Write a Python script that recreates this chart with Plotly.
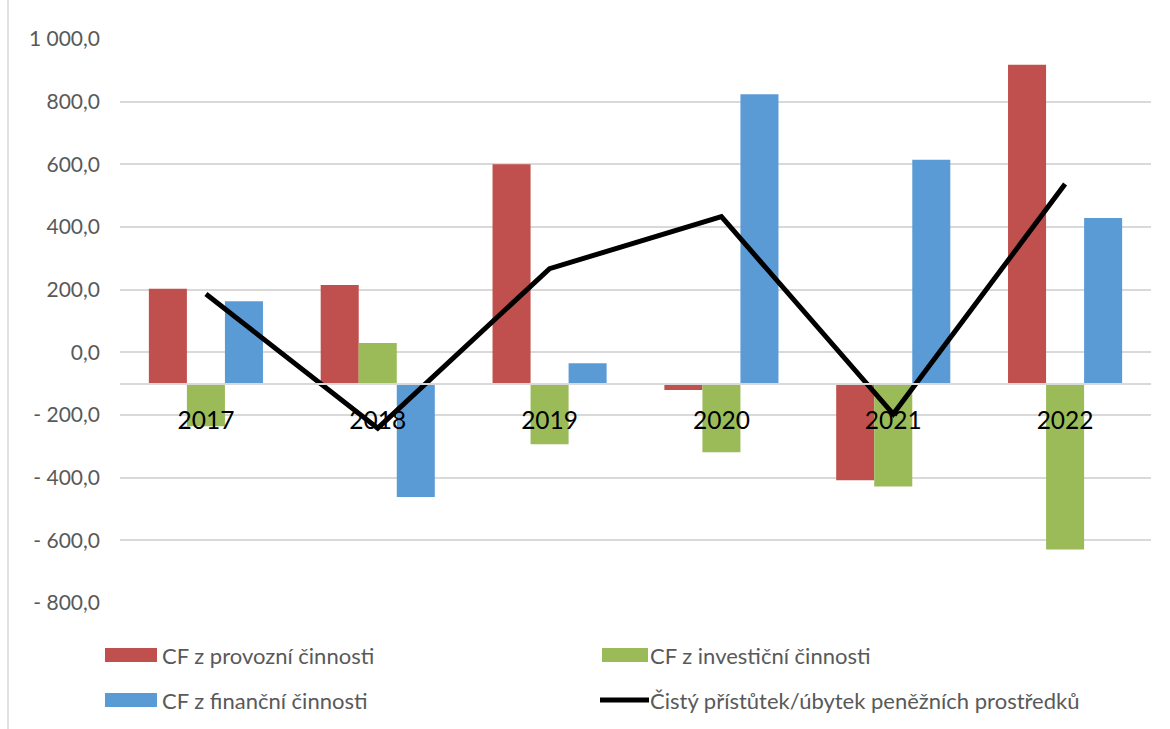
import plotly.graph_objects as go

# Cash-flow overview 2017–2022 (values in thousands)
years = ["2017", "2018", "2019", "2020", "2021", "2022"]
cf_provozni = [203, 215, 600, -120, -408, 918]
cf_investicni = [-236, 30, -293, -319, -428, -629]
cf_financni = [163, -462, -35, 824, 615, 429]
cisty_prirustek = [186, -242, 267, 433, -197, 537]

series_names = [
    "CF z provozní činnosti",
    "CF z investiční činnosti",
    "CF z finanční činnosti",
    "Čistý přístůtek/úbytek peněžních prostředků",
]
bar_colors = ["#C0504D", "#9BBB59", "#5B9BD5"]
line_color = "#000000"

Y_MIN, Y_MAX, Y_STEP = -800, 1000, 200
AXIS_CROSS = -100  # category axis crosses the value axis here
tick_vals = list(range(Y_MIN, Y_MAX + 1, Y_STEP))


def cz_number(v):
    s = f"{abs(v):,.1f}".replace(",", " ").replace(".", ",")
    return ("- " if v < 0 else "") + s


tick_text = [cz_number(v) for v in tick_vals]

FONT = "Lato, Carlito, Calibri, sans-serif"
W, H = 1170, 729
M_L, M_R, M_T, M_B = 120, 19, 39, 126
PLOT_W = W - M_L - M_R
PLOT_H = H - M_T - M_B

fig = go.Figure()
for name, vals, col in zip(series_names[:3], [cf_provozni, cf_investicni, cf_financni], bar_colors):
    fig.add_trace(go.Bar(
        x=years,
        y=[v - AXIS_CROSS for v in vals],
        base=AXIS_CROSS,
        name=name,
        marker=dict(color=col, line=dict(width=0)),
        customdata=vals,
        hovertemplate="%{x}: %{customdata}<extra>" + name + "</extra>",
        showlegend=False,
    ))

fig.add_trace(go.Scatter(
    x=years,
    y=cisty_prirustek,
    mode="lines",
    name=series_names[3],
    line=dict(color=line_color, width=5),
    showlegend=False,
))


def px_x(p):
    return (p - M_L) / PLOT_W


def px_y(p):
    return (H - M_B - p) / PLOT_H


# Legend drawn as swatches + labels in two columns
legend_items = [
    # (swatch kind, colour, x0, x1, y-centre, text x)
    ("rect", bar_colors[0], 105, 157, 655, 160),
    ("rect", bar_colors[1], 602, 648, 655, 648),
    ("rect", bar_colors[2], 105, 157, 700, 160),
    ("line", line_color, 600, 649, 700, 648),
]
shapes = []
annotations = []
for (kind, col, x0, x1, yc, tx), label in zip(legend_items, series_names):
    if kind == "rect":
        shapes.append(dict(type="rect", xref="paper", yref="paper",
                           x0=px_x(x0), x1=px_x(x1), y0=px_y(yc + 7), y1=px_y(yc - 7),
                           fillcolor=col, line=dict(width=0)))
    else:
        shapes.append(dict(type="line", xref="paper", yref="paper",
                           x0=px_x(x0), x1=px_x(x1), y0=px_y(yc), y1=px_y(yc),
                           line=dict(color=col, width=5)))
    annotations.append(dict(xref="paper", yref="paper", x=px_x(tx), y=px_y(yc),
                            xanchor="left", yanchor="middle", showarrow=False,
                            text=label, font=dict(family=FONT, size=22, color="#595959")))

# chart-area border on the left
shapes.append(dict(type="line", xref="paper", yref="paper",
                   x0=px_x(8), x1=px_x(8), y0=px_y(0), y1=px_y(H),
                   line=dict(color="#d9d9d9", width=1.5)))

fig.update_layout(
    width=W, height=H,
    margin=dict(l=M_L, r=M_R, t=M_T, b=M_B),
    paper_bgcolor="white", plot_bgcolor="white",
    barmode="group", bargap=0.336, bargroupgap=0,
    shapes=shapes, annotations=annotations,
    showlegend=False,
    xaxis=dict(
        anchor="free",
        position=(AXIS_CROSS - Y_MIN) / (Y_MAX - Y_MIN),
        showline=True, linecolor="#d9d9d9", linewidth=2,
        showgrid=False, zeroline=False, ticks="",
        ticklabelstandoff=15,
        tickfont=dict(family=FONT, size=24.5, color="#000000"),
    ),
    yaxis=dict(
        range=[Y_MIN, Y_MAX],
        tickvals=tick_vals, ticktext=tick_text,
        showgrid=True, gridcolor="#d9d9d9", gridwidth=1.5,
        zeroline=False, showline=False, ticks="",
        ticklabelstandoff=19,
        tickfont=dict(family=FONT, size=21, color="#595959"),
    ),
)

fig.write_html("out.html")
